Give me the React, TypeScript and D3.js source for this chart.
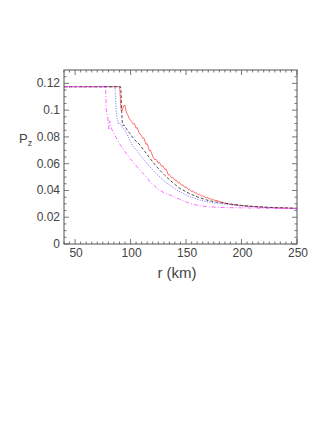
import React, { useEffect, useRef } from 'react';
import * as d3 from 'd3';

// radius (km) and P_z values
const redR = [40, 90, 90.5, 91, 91.5, 92, 93, 94, 95, 96, 97, 98, 99, 100, 101, 102.5, 103.5, 105, 106, 107.5, 108.5, 109.5, 111, 112, 114, 115, 117, 118, 120.5, 122, 123, 125, 126, 128, 129, 131, 132, 134, 135, 137, 138, 140, 141, 143, 144, 146, 147, 149, 150, 152, 153, 155, 156, 158, 159, 161, 162, 164, 165, 168, 169, 172, 173, 176, 177, 181, 185, 190, 198, 205, 215, 230, 250];
const redP = [0.1175, 0.1175, 0.114, 0.105, 0.1, 0.0995, 0.101, 0.1035, 0.1035, 0.099, 0.097, 0.0955, 0.0935, 0.0925, 0.0915, 0.0895, 0.09, 0.0865, 0.087, 0.0835, 0.082, 0.0815, 0.079, 0.0792, 0.0745, 0.075, 0.0695, 0.07, 0.0645, 0.0628, 0.0633, 0.0605, 0.061, 0.058, 0.0585, 0.0556, 0.0561, 0.0515, 0.052, 0.0493, 0.0498, 0.0475, 0.048, 0.0455, 0.046, 0.0438, 0.0443, 0.0422, 0.0427, 0.0406, 0.0411, 0.0392, 0.0397, 0.038, 0.0384, 0.0368, 0.0372, 0.0357, 0.0361, 0.0345, 0.0348, 0.0334, 0.0337, 0.0325, 0.0327, 0.0315, 0.0306, 0.0298, 0.0289, 0.0283, 0.0277, 0.0271, 0.0266];

const blackR = [40, 91, 91.5, 92, 92.5, 93, 94, 95, 96, 97.5, 99.5, 102, 105, 108.5, 113, 117.5, 122, 126.5, 131, 135.5, 140, 144.5, 149, 153.5, 158, 162.5, 170, 180, 190, 200, 215, 230, 250];
const blackP = [0.1175, 0.1175, 0.113, 0.1, 0.091, 0.0885, 0.089, 0.0875, 0.0865, 0.0845, 0.0825, 0.0795, 0.0768, 0.074, 0.069, 0.064, 0.0593, 0.055, 0.0512, 0.0477, 0.0445, 0.0415, 0.0395, 0.0375, 0.036, 0.0345, 0.0325, 0.031, 0.0298, 0.0288, 0.0278, 0.0272, 0.0267];

const blueR = [40, 86, 86.5, 87, 87.5, 88.5, 89, 90, 91, 93, 95, 98.5, 102.5, 105.5, 108.5, 113, 117.5, 122, 126.5, 131, 135.5, 140, 144.5, 149, 153.5, 162.5, 172, 180.5, 190, 198.5, 215, 230, 250];
const blueP = [0.1175, 0.1175, 0.11, 0.1, 0.095, 0.092, 0.0895, 0.0905, 0.0895, 0.087, 0.085, 0.079, 0.0725, 0.07, 0.0665, 0.062, 0.0576, 0.0535, 0.05, 0.0465, 0.044, 0.0413, 0.039, 0.037, 0.0353, 0.0328, 0.031, 0.0303, 0.0293, 0.0285, 0.0275, 0.0269, 0.0265];

const magR = [40, 77.5, 78, 78.5, 79.5, 80, 80.5, 81, 82, 83, 84, 86, 90, 95, 99.5, 104, 108.5, 114.5, 117.5, 122, 126.5, 131, 135.5, 140, 144.5, 149, 153.5, 158, 162.5, 171, 180.5, 200, 220, 250];
const magP = [0.1175, 0.1175, 0.1, 0.098, 0.094, 0.09, 0.086, 0.092, 0.089, 0.086, 0.084, 0.081, 0.075, 0.069, 0.064, 0.0595, 0.055, 0.05, 0.0464, 0.043, 0.04, 0.038, 0.0365, 0.035, 0.0333, 0.0318, 0.0303, 0.0293, 0.0285, 0.0278, 0.0273, 0.027, 0.0267, 0.0264];

const xTicks = [50, 100, 150, 200, 250];
const yTicks = [0, 0.02, 0.04, 0.06, 0.08, 0.1, 0.12];
const yTickLabels = ['0', '0.02', '0.04', '0.06', '0.08', '0.1', '0.12'];

const series = [
  { r: redR, p: redP, color: '#ff4a4a', dash: null },
  { r: blackR, p: blackP, color: '#222', dash: '3,2' },
  { r: blueR, p: blueP, color: '#4a4aff', dash: '1,1.5' },
  { r: magR, p: magP, color: '#ff44ff', dash: '4,2,1,2' },
];

const App = () => {
  const chartRef = useRef<HTMLDivElement>(null);

  useEffect(() => {
    const width = 332;
    const height = 430;
    const left = 64, right = 297, top = 70, bottom = 244;

    const x = d3.scaleLinear().domain([40, 250]).range([left, right]);
    const y = d3.scaleLinear().domain([0, 0.13]).range([bottom, top]);

    const svg = d3.select(chartRef.current)
      .append('svg')
      .attr('width', width)
      .attr('height', height)
      .style('display', 'block')
      .style('background', '#fff')
      .style('font-family', '"Liberation Sans", Arial, sans-serif');

    const axisColor = '#555';
    const textColor = '#444';

    // clip for curves
    svg.append('clipPath').attr('id', 'plotclip')
      .append('rect')
      .attr('x', left).attr('y', top)
      .attr('width', right - left).attr('height', bottom - top);

    // curves
    const g = svg.append('g').attr('clip-path', 'url(#plotclip)');
    series.forEach(s => {
      const pts = s.r.map((r, i) => [r, s.p[i]] as [number, number]);
      const line = d3.line<[number, number]>().x(d => x(d[0])).y(d => y(d[1]));
      g.append('path')
        .attr('d', line(pts))
        .attr('fill', 'none')
        .attr('stroke', s.color)
        .attr('stroke-width', 0.8)
        .attr('stroke-dasharray', s.dash);
    });

    // frame
    svg.append('rect')
      .attr('x', left).attr('y', top)
      .attr('width', right - left).attr('height', bottom - top)
      .attr('fill', 'none')
      .attr('stroke', axisColor)
      .attr('stroke-width', 1);

    // ticks, inward on all four sides
    const ticks = svg.append('g').attr('stroke', axisColor).attr('stroke-width', 0.8);
    d3.range(40, 251, 5).forEach(v => {
      const len = v % 50 === 0 ? 5 : 2.5;
      ticks.append('line').attr('x1', x(v)).attr('x2', x(v)).attr('y1', bottom).attr('y2', bottom - len);
      ticks.append('line').attr('x1', x(v)).attr('x2', x(v)).attr('y1', top).attr('y2', top + len);
    });
    d3.range(0, 26).forEach(k => {
      const v = k * 0.005;
      const len = k % 4 === 0 ? 5 : 2.5;
      ticks.append('line').attr('x1', left).attr('x2', left + len).attr('y1', y(v)).attr('y2', y(v));
      ticks.append('line').attr('x1', right).attr('x2', right - len).attr('y1', y(v)).attr('y2', y(v));
    });

    // tick labels
    svg.append('g').selectAll('text')
      .data(xTicks)
      .enter()
      .append('text')
      .attr('x', d => x(d) + 1)
      .attr('y', bottom + 13)
      .attr('text-anchor', 'middle')
      .attr('font-size', 12)
      .attr('fill', textColor)
      .text(d => d);

    svg.append('g').selectAll('text')
      .data(yTicks)
      .enter()
      .append('text')
      .attr('x', left - 4)
      .attr('y', d => y(d) + 4)
      .attr('text-anchor', 'end')
      .attr('font-size', 12)
      .attr('fill', textColor)
      .text((d, i) => yTickLabels[i]);

    // axis titles
    svg.append('text')
      .attr('x', 177)
      .attr('y', bottom + 34)
      .attr('text-anchor', 'middle')
      .attr('font-size', 15)
      .attr('fill', textColor)
      .text('r (km)');

    const pz = svg.append('text')
      .attr('x', 19)
      .attr('y', y(0.08) + 6)
      .attr('font-size', 13)
      .attr('fill', textColor);
    pz.append('tspan').text('P');
    pz.append('tspan').attr('font-size', 9).attr('dy', 3).text('z');

    return () => {
      d3.select(chartRef.current).selectAll('*').remove();
    };
  }, []);

  return <div ref={chartRef} style={{ position: 'absolute', left: 0, top: 0 }}></div>;
};

export default App;
